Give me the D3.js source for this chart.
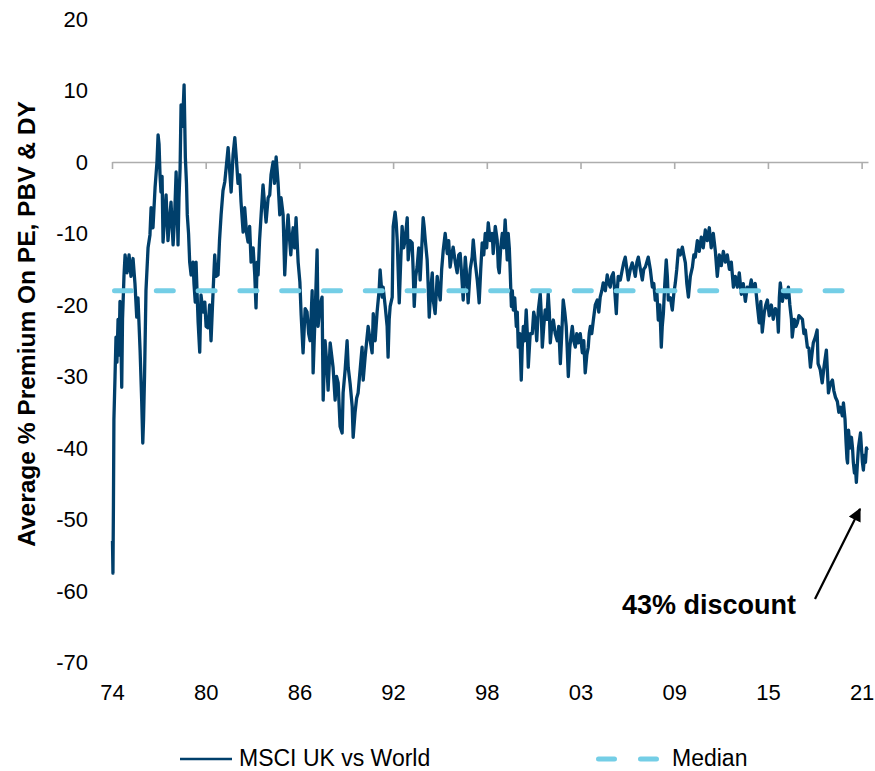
<!DOCTYPE html>
<html><head><meta charset="utf-8">
<script src="https://cdn.jsdelivr.net/npm/d3@7"></script>
<style>body{margin:0;background:#fff}svg{display:block}text{font-family:Arial,"Liberation Sans",sans-serif;fill:#000}</style>
</head><body><svg id="c" width="875" height="771"></svg>
<script>
const xTickDates = [1974, 1979.875, 1985.75, 1991.625, 1997.5, 2003.375, 2009.25, 2015.125, 2021];
const xTickLabels = ["74","80","86","92","98","03","09","15","21"];
const yTicks = [20,10,0,-10,-20,-30,-40,-50,-60,-70];
const seriesNames = ["MSCI UK vs World", "Median"];
const medianValue = -18;
const medianSpan = [1974, 2021];
const annotationText = "43% discount";
const yTitle = "Average % Premium On PE, PBV & DY";
const ukVsWorld = [
[1974.03,-53],[1974.06,-57.5],[1974.09,-48],[1974.12,-36],[1974.19,-30],[1974.25,-24.5],[1974.31,-28],[1974.38,-22],[1974.44,-27],[1974.50,-19.5],[1974.56,-25],[1974.61,-31.5],[1974.66,-22],[1974.75,-16],[1974.82,-13],[1974.94,-15.5],[1975.07,-13],[1975.19,-16],[1975.32,-13.5],[1975.44,-17],[1975.55,-21.7],[1975.63,-19],[1975.76,-26.3],[1975.86,-33.3],[1975.93,-39.3],[1975.98,-36],
[1976.04,-30],[1976.13,-18],[1976.26,-12],[1976.38,-10.2],[1976.45,-6.4],[1976.57,-9.2],[1976.70,-3.6],[1976.82,0],[1976.89,3.8],[1976.95,2.5],[1977.01,-1.8],[1977.07,-4.2],[1977.14,-2],[1977.20,-11.2],[1977.32,-7],[1977.39,-4.6],[1977.51,-11],[1977.61,-8],[1977.70,-5.6],[1977.83,-11.6],[1977.92,-8],[1978.02,-1.4],[1978.08,-6],[1978.14,-11.6],[1978.20,-5],[1978.27,-0.9],[1978.33,8],[1978.42,5],[1978.52,10.8],[1978.60,0.6],[1978.67,-3],[1978.72,-7.4],[1978.80,-10],[1978.87,-14],[1978.96,-15.8],
[1979.08,-14],[1979.14,-17],[1979.22,-19.6],[1979.27,-14],[1979.33,-18],[1979.40,-22.4],[1979.50,-26.6],[1979.58,-18.6],[1979.71,-21],[1979.82,-19.6],[1979.90,-23],[1980.02,-23.2],[1980.12,-20],[1980.21,-25],[1980.34,-18],[1980.44,-13],[1980.52,-16],[1980.65,-15.8],[1980.74,-11],[1980.84,-7.4],[1980.96,-4],[1981.07,-2.8],[1981.15,-1],[1981.28,2],[1981.37,-1],[1981.47,-4.2],[1981.59,1],[1981.70,3.4],[1981.78,1],[1981.90,-3],[1982.01,-1.8],[1982.09,-5.6],[1982.22,-9.8],[1982.32,-6.4],[1982.44,-10],[1982.53,-11.2],[1982.63,-9],[1982.72,-14],[1982.85,-12],[1982.95,-15.8],
[1983.03,-20.4],[1983.10,-14],[1983.16,-15.8],[1983.25,-11],[1983.35,-7.4],[1983.47,-3.2],[1983.57,-6],[1983.66,-8.4],[1983.79,-5],[1983.89,-4.6],[1983.97,-1.8],[1984.10,0],[1984.19,-3],[1984.29,0.7],[1984.41,-2.8],[1984.52,-7.4],[1984.60,-5],[1984.73,-7.4],[1984.83,-15.8],[1984.95,-10],[1985.04,-7.4],[1985.14,-11],[1985.21,-13],[1985.29,-10.5],[1985.36,-9.2],[1985.45,-12],[1985.54,-7.8],[1985.67,-14],[1985.78,-16.8],[1985.86,-21.4],[1985.98,-26.7],
[1986.11,-20.5],[1986.23,-21],[1986.33,-24],[1986.42,-25],[1986.55,-18],[1986.61,-29.5],[1986.74,-21],[1986.86,-12.3],[1986.92,-23],[1987.05,-20],[1987.17,-18.9],[1987.24,-33.3],[1987.36,-25],[1987.46,-28],[1987.55,-31.9],[1987.68,-25.3],[1987.77,-27],[1987.86,-28.7],[1987.99,-33.3],[1988.08,-30],[1988.18,-30.9],[1988.24,-34],[1988.30,-37],[1988.43,-37.9],[1988.49,-32.3],[1988.62,-29],[1988.74,-25],[1988.81,-28.7],[1988.93,-31],[1989.06,-34.2],[1989.12,-38.5],[1989.24,-35],[1989.34,-33],[1989.43,-32.3],[1989.56,-29],[1989.68,-25.9],[1989.75,-30.5],[1989.87,-27.3],[1989.97,-25],
[1990.06,-23],[1990.19,-25],[1990.31,-26.7],[1990.38,-21.2],[1990.50,-25],[1990.62,-21],[1990.75,-17.9],[1990.81,-15.1],[1990.94,-18.9],[1991.00,-17.5],[1991.13,-20.2],[1991.25,-23],[1991.31,-27.3],[1991.38,-22],[1991.44,-20.2],[1991.57,-18.9],[1991.63,-9],[1991.75,-7],[1991.82,-8.5],[1991.88,-10.9],[1991.94,-15],[1992.01,-19.7],[1992.10,-14],[1992.19,-9],[1992.29,-12],[1992.38,-10.9],[1992.51,-7.8],[1992.57,-13.7],[1992.69,-11],[1992.82,-11.3],[1992.88,-15],[1992.95,-20.2],
[1993.04,-16],[1993.13,-14.7],[1993.23,-12],[1993.32,-16.5],[1993.42,-12],[1993.51,-7.8],[1993.57,-9],[1993.64,-10.9],[1993.76,-13.7],[1993.82,-17],[1993.89,-21.7],[1993.98,-18],[1994.08,-15.5],[1994.14,-19.3],[1994.26,-21.2],[1994.39,-16],[1994.48,-18],[1994.58,-19.3],[1994.67,-15],[1994.77,-12.3],[1994.89,-10],[1995.02,-12.8],[1995.11,-11],[1995.20,-14.7],[1995.30,-13],[1995.39,-11.9],[1995.52,-14],[1995.64,-15.5],[1995.74,-13],[1995.83,-12.8],[1995.93,-16],
[1996.02,-19.3],[1996.15,-13.3],[1996.24,-16],[1996.33,-19.7],[1996.46,-15],[1996.58,-13.3],[1996.65,-10.9],[1996.77,-14],[1996.90,-16.5],[1996.96,-18],[1997.02,-19.7],[1997.12,-15],[1997.21,-11.3],[1997.31,-13],[1997.40,-10],[1997.49,-12],[1997.59,-8.5],[1997.71,-11],[1997.84,-10],[1997.90,-12.8],[1998.03,-9],[1998.15,-10.9],[1998.22,-14.7],[1998.28,-15.5],[1998.37,-12],[1998.47,-10],[1998.56,-12],[1998.65,-8.1],[1998.72,-11],[1998.78,-13.7],[1998.84,-10],[1998.91,-12],[1998.97,-15.5],
[1999.04,-20.2],[1999.10,-18],[1999.16,-20.7],[1999.25,-19],[1999.35,-23],[1999.41,-21],[1999.47,-25.9],[1999.57,-24],[1999.66,-30.5],[1999.72,-26],[1999.79,-23],[1999.88,-25],[1999.97,-20.7],[2000.04,-24],[2000.10,-28.7],[2000.22,-24],[2000.35,-24],[2000.44,-21],[2000.54,-22.1],[2000.63,-25],[2000.73,-20.7],[2000.85,-18.4],[2000.91,-21],[2000.98,-25.9],[2001.07,-23],[2001.16,-20.7],[2001.26,-22],[2001.35,-18.4],[2001.42,-21],[2001.48,-25.3],[2001.57,-23],[2001.67,-22.1],[2001.79,-24],[2001.92,-25],
[2002.01,-23],[2002.11,-28.2],[2002.20,-24],[2002.29,-19.3],[2002.39,-21],[2002.48,-23],[2002.54,-26],[2002.61,-30],[2002.70,-26],[2002.80,-24],[2002.86,-23],[2002.95,-25],[2003.05,-25.9],[2003.14,-24],[2003.24,-25.3],[2003.36,-24],[2003.49,-26.7],[2003.58,-25],[2003.67,-29.5],[2003.77,-27],[2003.86,-25.9],[2003.92,-24],[2003.99,-23],[2004.08,-24],[2004.18,-22.1],[2004.30,-20],[2004.43,-19.3],[2004.52,-21],[2004.61,-18.9],[2004.71,-18],[2004.80,-16.9],[2004.93,-18],
[2005.05,-15.8],[2005.15,-17],[2005.24,-17.5],[2005.33,-16],[2005.43,-15.5],[2005.52,-18],[2005.62,-21.2],[2005.68,-18],[2005.74,-16],[2005.87,-16.5],[2005.99,-15.1],[2006.09,-14],[2006.18,-13.3],[2006.28,-15],[2006.37,-16.5],[2006.50,-15],[2006.62,-14.1],[2006.72,-15],[2006.81,-16],[2006.91,-14],[2007.00,-13.3],[2007.13,-15],[2007.25,-16.5],[2007.34,-15],[2007.44,-14.7],[2007.53,-14],[2007.62,-13.3],[2007.75,-15],[2007.88,-17.5],[2007.97,-17],
[2008.06,-19.3],[2008.16,-18],[2008.25,-22.1],[2008.35,-20],[2008.44,-25.9],[2008.50,-23],[2008.57,-21.2],[2008.66,-17],[2008.75,-13.7],[2008.82,-16],[2008.88,-19.3],[2009.01,-19],[2009.13,-20.7],[2009.22,-18.5],[2009.32,-16.9],[2009.41,-15],[2009.51,-12.3],[2009.63,-13],[2009.76,-11.9],[2009.85,-13],[2009.95,-14.1],[2010.04,-17],[2010.14,-18.9],[2010.26,-16],[2010.39,-14.7],[2010.48,-13],[2010.57,-13.3],
[2010.70,-11],[2010.82,-12.5],[2010.95,-10.5],[2011.07,-12],[2011.20,-9.5],[2011.32,-11],[2011.45,-9.2],[2011.57,-12],[2011.70,-10],[2011.83,-12.5],[2011.95,-16],[2012.08,-13],[2012.20,-14.5],[2012.33,-12.5],[2012.46,-14],[2012.58,-13],[2012.71,-15],[2012.83,-14],[2012.96,-17.5],[2013.08,-16],[2013.21,-17.5],[2013.33,-15.5],[2013.46,-18.5],[2013.58,-17],[2013.71,-19.5],[2013.83,-17.5],[2013.96,-18],
[2014.08,-16.5],[2014.21,-18],[2014.33,-17],[2014.46,-20],[2014.58,-22.5],[2014.68,-19.5],[2014.77,-23.8],[2014.90,-21],[2014.99,-20],[2015.09,-19.3],[2015.21,-21.5],[2015.34,-20],[2015.46,-22],[2015.59,-20.5],[2015.71,-21],[2015.78,-23.8],[2015.84,-19],[2015.90,-16.9],[2016.03,-19.5],[2016.15,-18],[2016.28,-19],[2016.41,-17.5],[2016.50,-20],[2016.60,-22],[2016.65,-24.5],[2016.78,-22],[2016.88,-23],[2016.97,-22.5],
[2017.07,-21.5],[2017.16,-21.7],[2017.29,-22],[2017.38,-24],[2017.47,-23.5],[2017.60,-25.9],[2017.69,-26],[2017.79,-28.7],[2017.88,-27],[2017.97,-25.3],[2018.10,-24.5],[2018.21,-23.5],[2018.27,-28.2],[2018.40,-29],[2018.53,-30.9],[2018.65,-28.5],[2018.79,-26.3],[2018.85,-29],[2018.92,-32.3],[2019.04,-31],[2019.17,-30.5],[2019.26,-32],[2019.36,-32.9],[2019.48,-33.5],[2019.57,-35],[2019.67,-34.3],[2019.79,-35.5],[2019.86,-33.7],[2019.96,-36],
[2020.02,-39],[2020.08,-41.5],[2020.12,-42.1],[2020.18,-37.5],[2020.27,-40],[2020.36,-38.5],[2020.43,-40],[2020.48,-42],[2020.55,-43.5],[2020.61,-42.5],[2020.67,-44.8],[2020.74,-42],[2020.80,-40],[2020.86,-39],[2020.93,-37.9],[2020.99,-40],[2021.05,-42],[2021.11,-43.1],[2021.18,-41],[2021.24,-42],[2021.30,-40],[2021.36,-40.3]
];

const lineColor = "#003F6B", medColor = "#74CEE6", axisColor = "#ADADAD";
const FONT = "Arial, 'Liberation Sans', sans-serif";
const svg = d3.select("#c");
const x = d3.scaleLinear().domain([1974, 2021.4]).range([112, 868]);
const y = d3.scaleLinear().domain([-70, 20]).range([662.5, 19]);

// zero axis with ticks
const zeroAxis = svg.append("g").attr("transform", `translate(0,${y(0)})`)
  .call(d3.axisBottom(x).tickValues(xTickDates).tickFormat("").tickSizeInner(7).tickSizeOuter(0));
zeroAxis.selectAll("path,line").attr("stroke", axisColor).attr("stroke-width", 1.6);

// bottom labels
const bottom = svg.append("g").attr("transform", `translate(0,${y(-70)})`)
  .call(d3.axisBottom(x).tickValues(xTickDates).tickFormat((d, i) => xTickLabels[i]).tickSize(0).tickPadding(22));
bottom.select(".domain").remove();
bottom.selectAll("text").attr("font-size", 22).attr("font-family", FONT).attr("fill", "#000");

// y labels
const left = svg.append("g").attr("transform", `translate(${x(1974)},0)`)
  .call(d3.axisLeft(y).tickValues(yTicks).tickFormat(d => String(d)).tickSize(0).tickPadding(24));
left.select(".domain").remove();
left.selectAll("text").attr("font-size", 22).attr("font-family", FONT).attr("fill", "#000");

// y title
svg.append("text").attr("transform", "translate(35,324) rotate(-90)")
  .attr("text-anchor", "middle").attr("font-size", 24.5).attr("font-weight", "bold").text(yTitle);

const line = d3.line().x(d => x(d[0])).y(d => y(d[1]));

// series
svg.append("path").datum(ukVsWorld).attr("d", line)
  .attr("fill", "none").attr("stroke", lineColor).attr("stroke-width", 3.3)
  .attr("stroke-linejoin", "round");

// median (drawn above the series)
svg.append("path").datum(medianSpan.map(t => [t, medianValue])).attr("d", line)
  .attr("fill", "none").attr("stroke", medColor).attr("stroke-width", 5)
  .attr("stroke-linecap", "round").attr("stroke-dasharray", "17,24.8").attr("stroke-dashoffset", -2.5);

// annotation
const defs = svg.append("defs");
defs.append("marker").attr("id", "ah").attr("viewBox", "0 0 10 10").attr("refX", 9).attr("refY", 5)
  .attr("markerWidth", 6).attr("markerHeight", 6).attr("orient", "auto")
  .append("path").attr("d", "M0,0 L10,5 L0,10 z").attr("fill", "#000");
svg.append("line").attr("x1", 815).attr("y1", 599).attr("x2", 860).attr("y2", 509)
  .attr("stroke", "#000").attr("stroke-width", 2.2).attr("marker-end", "url(#ah)");
svg.append("text").attr("x", 622).attr("y", 614).attr("font-size", 27).attr("font-weight", "bold").text(annotationText);

// legend
const lg = svg.append("g");
lg.append("line").attr("x1", 180).attr("x2", 232).attr("y1", 759).attr("y2", 759)
  .attr("stroke", lineColor).attr("stroke-width", 2.5);
lg.append("text").attr("x", 239).attr("y", 765.5).attr("font-size", 23).text(seriesNames[0]);
lg.append("line").attr("x1", 598.5).attr("x2", 657).attr("y1", 759).attr("y2", 759)
  .attr("stroke", medColor).attr("stroke-width", 5).attr("stroke-linecap", "round").attr("stroke-dasharray", "16,26");
lg.append("text").attr("x", 672).attr("y", 765.5).attr("font-size", 23).text(seriesNames[1]);
</script></body></html>
